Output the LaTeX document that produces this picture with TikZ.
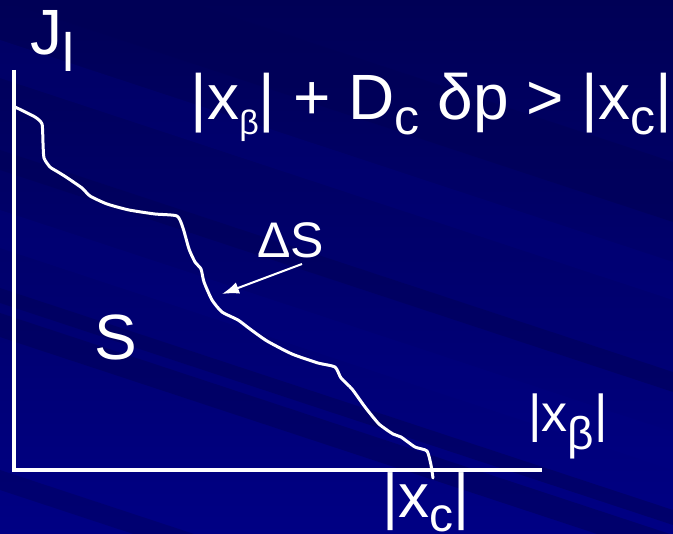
\documentclass[tikz,border=0pt]{standalone}
\usepackage{fontspec}
\setmainfont{Liberation Sans}
\usetikzlibrary{positioning,arrows.meta}
\definecolor{navydark}{RGB}{0,0,86}
\definecolor{navymid}{RGB}{0,0,108}
\definecolor{navylight}{RGB}{0,0,132}
\newcommand{\lowsub}[3]{\raisebox{-#1pt}{\fontsize{#2}{#2}\selectfont #3}}

\begin{document}
\begin{tikzpicture}[
    x=1pt, y=-1pt,
    axis/.style={draw=white, line width=4.5pt},
    trace/.style={draw=white, line width=3pt, line join=round, line cap=round},
    lbl/.style={text=white, inner sep=0pt, anchor=base west},
    arrow/.style={-{Latex[length=17pt,width=12pt]}, draw=white, line width=2pt}
]
\clip (0,0) rectangle (673,534);
% background
\shade[top color=navydark, bottom color=navylight] (0,0) rectangle (673,534);
\fill[navydark, opacity=0.6] (0,-60) -- (673,162) -- (673,222) -- (0,0) -- cycle;
\fill[navylight, opacity=0.3] (0,40) -- (673,262) -- (673,300) -- (0,78) -- cycle;
\fill[navydark, opacity=0.5] (0,150) -- (673,372) -- (673,392) -- (0,170) -- cycle;
\fill[navylight, opacity=0.3] (0,210) -- (673,432) -- (673,470) -- (0,248) -- cycle;
\fill[navydark, opacity=0.5] (0,288) -- (673,510) -- (673,525) -- (0,303) -- cycle;
\fill[navydark, opacity=0.5] (0,313) -- (673,535) -- (673,559) -- (0,337) -- cycle;
\fill[navydark, opacity=0.4] (0,470) -- (673,692) -- (673,712) -- (0,490) -- cycle;

% labels
\node[lbl] (jl) at (30,55) {\fontsize{64}{64}\selectfont J\lowsub{17}{54}{l}};
\node[lbl] (cond) at (190.5,120) {\fontsize{64}{64}\selectfont
  |x\lowsub{15}{34}{β}| + D\lowsub{15}{50}{c} δp > |x\lowsub{15}{50}{c}|};
\node[lbl] (ds) at (257,258) {\fontsize{50}{50}\selectfont ΔS};
\node[lbl] (s) at (94,360) {\fontsize{64}{64}\selectfont S};
\node[lbl] (xb) at (528,432) {\fontsize{52}{52}\selectfont |x\lowsub{18}{46}{β}|};
\node[lbl] (xc) at (382.5,518) {\fontsize{62}{62}\selectfont |x\lowsub{14}{48}{c}|};

% axes
\draw[axis] (14,70) |- (542,470);

% boundary
\draw[trace] plot[smooth, tension=0.35] coordinates {
  (15,107) (35,117) (42,124) (43,143) (44,158) (50,167) (58,172) (66,177)
  (82,188) (90,196) (107,204) (129,210) (155,214) (177,216) (183,228)
  (189,249) (195,262) (201,269) (204,282) (212,300) (222,312) (238,320)
  (250,329) (267,341) (292,354) (318,363) (335,367) (341,378) (352,389)
  (365,407) (379,424) (393,434) (401,437) (415,447) (427,451) (431,465)
  (433,478)};

\coordinate (dstail) at (302,264);
\coordinate (dstip) at (222,294);
\draw[arrow] (dstail) -- (dstip);
\end{tikzpicture}
\end{document}
